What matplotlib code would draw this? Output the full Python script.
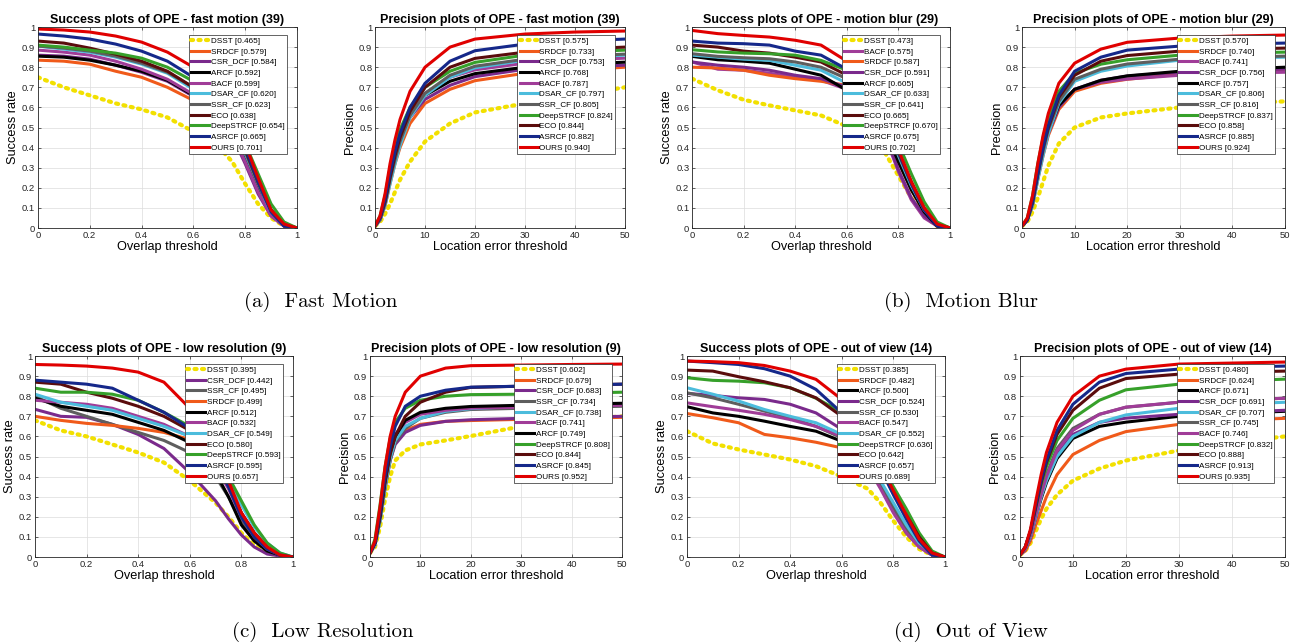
import matplotlib
matplotlib.use("Agg")
import matplotlib.pyplot as plt

# thresholds
succ_x = [0, 0.1, 0.2, 0.3, 0.4, 0.5, 0.6, 0.7, 0.75, 0.8, 0.85, 0.9, 0.95, 1.0]
prec_x = [0, 1, 2, 3, 4, 5, 7, 10, 15, 20, 30, 40, 50]

# ---- (a) fast motion ----
fm_succ_names = ["DSST", "SRDCF", "CSR_DCF", "ARCF", "BACF", "DSAR_CF",
                 "SSR_CF", "ECO", "DeepSTRCF", "ASRCF", "OURS"]
fm_succ_scores = [0.465, 0.579, 0.584, 0.592, 0.599, 0.620, 0.623, 0.638,
                  0.654, 0.665, 0.701]
fm_succ_curves = [
    [0.75, 0.70, 0.66, 0.62, 0.59, 0.55, 0.48, 0.40, 0.33, 0.22, 0.12, 0.05, 0.01, 0.0],
    [0.835, 0.83, 0.815, 0.78, 0.75, 0.70, 0.635, 0.55, 0.48, 0.34, 0.19, 0.07, 0.01, 0.0],
    [0.86, 0.855, 0.84, 0.81, 0.775, 0.73, 0.655, 0.55, 0.46, 0.32, 0.17, 0.06, 0.01, 0.0],
    [0.855, 0.85, 0.835, 0.81, 0.78, 0.735, 0.66, 0.57, 0.49, 0.36, 0.21, 0.08, 0.01, 0.0],
    [0.885, 0.875, 0.86, 0.83, 0.79, 0.74, 0.665, 0.56, 0.47, 0.33, 0.18, 0.06, 0.01, 0.0],
    [0.905, 0.89, 0.875, 0.85, 0.815, 0.77, 0.69, 0.58, 0.50, 0.37, 0.22, 0.08, 0.02, 0.0],
    [0.905, 0.895, 0.88, 0.855, 0.82, 0.775, 0.70, 0.59, 0.51, 0.38, 0.22, 0.09, 0.02, 0.0],
    [0.93, 0.92, 0.895, 0.865, 0.83, 0.78, 0.70, 0.60, 0.52, 0.39, 0.23, 0.09, 0.02, 0.0],
    [0.91, 0.90, 0.885, 0.87, 0.845, 0.80, 0.73, 0.63, 0.55, 0.42, 0.27, 0.12, 0.03, 0.0],
    [0.965, 0.955, 0.94, 0.915, 0.88, 0.83, 0.75, 0.64, 0.55, 0.40, 0.23, 0.08, 0.01, 0.0],
    [0.99, 0.985, 0.975, 0.955, 0.925, 0.875, 0.80, 0.68, 0.58, 0.42, 0.25, 0.09, 0.02, 0.0],
]

fm_prec_names = ["DSST", "SRDCF", "CSR_DCF", "ARCF", "BACF", "DSAR_CF",
                 "SSR_CF", "DeepSTRCF", "ECO", "ASRCF", "OURS"]
fm_prec_scores = [0.575, 0.733, 0.753, 0.768, 0.787, 0.797, 0.805, 0.824,
                  0.844, 0.882, 0.940]
fm_prec_curves = [
    [0.01, 0.03, 0.07, 0.12, 0.18, 0.24, 0.33, 0.43, 0.52, 0.575, 0.62, 0.66, 0.70],
    [0.01, 0.04, 0.11, 0.22, 0.32, 0.40, 0.52, 0.62, 0.69, 0.733, 0.77, 0.785, 0.80],
    [0.01, 0.04, 0.12, 0.24, 0.35, 0.44, 0.55, 0.64, 0.71, 0.753, 0.79, 0.80, 0.81],
    [0.01, 0.05, 0.13, 0.26, 0.37, 0.46, 0.57, 0.66, 0.73, 0.768, 0.80, 0.815, 0.825],
    [0.01, 0.05, 0.14, 0.28, 0.38, 0.47, 0.58, 0.67, 0.75, 0.787, 0.82, 0.835, 0.845],
    [0.01, 0.04, 0.11, 0.22, 0.32, 0.41, 0.55, 0.66, 0.75, 0.797, 0.835, 0.85, 0.86],
    [0.01, 0.04, 0.12, 0.24, 0.34, 0.43, 0.56, 0.67, 0.76, 0.805, 0.84, 0.855, 0.865],
    [0.01, 0.06, 0.16, 0.30, 0.40, 0.49, 0.60, 0.70, 0.78, 0.824, 0.86, 0.875, 0.885],
    [0.01, 0.05, 0.13, 0.25, 0.36, 0.45, 0.58, 0.70, 0.80, 0.844, 0.875, 0.89, 0.90],
    [0.01, 0.05, 0.14, 0.27, 0.38, 0.47, 0.60, 0.72, 0.83, 0.882, 0.915, 0.93, 0.94],
    [0.01, 0.06, 0.17, 0.32, 0.44, 0.54, 0.68, 0.80, 0.90, 0.94, 0.965, 0.975, 0.98],
]

# ---- (b) motion blur ----
mb_succ_names = ["DSST", "BACF", "SRDCF", "CSR_DCF", "ARCF", "DSAR_CF",
                 "SSR_CF", "ECO", "DeepSTRCF", "ASRCF", "OURS"]
mb_succ_scores = [0.473, 0.575, 0.587, 0.591, 0.605, 0.633, 0.641, 0.665,
                  0.670, 0.675, 0.702]
mb_succ_curves = [
    [0.743, 0.685, 0.638, 0.61, 0.585, 0.56, 0.506, 0.44, 0.37, 0.26, 0.15, 0.06, 0.01, 0.0],
    [0.826, 0.79, 0.785, 0.77, 0.75, 0.735, 0.69, 0.56, 0.45, 0.28, 0.14, 0.05, 0.01, 0.0],
    [0.80, 0.796, 0.785, 0.76, 0.743, 0.73, 0.71, 0.60, 0.50, 0.33, 0.19, 0.08, 0.01, 0.0],
    [0.826, 0.81, 0.80, 0.785, 0.76, 0.743, 0.70, 0.57, 0.46, 0.29, 0.15, 0.06, 0.01, 0.0],
    [0.854, 0.837, 0.83, 0.82, 0.79, 0.76, 0.685, 0.58, 0.48, 0.33, 0.19, 0.08, 0.01, 0.0],
    [0.86, 0.85, 0.84, 0.834, 0.81, 0.785, 0.72, 0.61, 0.51, 0.36, 0.21, 0.09, 0.02, 0.0],
    [0.867, 0.854, 0.847, 0.842, 0.826, 0.80, 0.743, 0.63, 0.53, 0.37, 0.22, 0.09, 0.02, 0.0],
    [0.91, 0.90, 0.88, 0.87, 0.85, 0.826, 0.76, 0.64, 0.54, 0.38, 0.23, 0.10, 0.02, 0.0],
    [0.887, 0.876, 0.87, 0.867, 0.86, 0.834, 0.785, 0.67, 0.57, 0.42, 0.27, 0.13, 0.03, 0.0],
    [0.93, 0.92, 0.917, 0.91, 0.88, 0.86, 0.79, 0.66, 0.55, 0.38, 0.22, 0.09, 0.01, 0.0],
    [0.983, 0.967, 0.958, 0.95, 0.934, 0.91, 0.83, 0.68, 0.56, 0.39, 0.23, 0.10, 0.02, 0.0],
]

mb_prec_names = ["DSST", "SRDCF", "BACF", "CSR_DCF", "ARCF", "DSAR_CF",
                 "SSR_CF", "DeepSTRCF", "ECO", "ASRCF", "OURS"]
mb_prec_scores = [0.570, 0.740, 0.741, 0.756, 0.757, 0.806, 0.816, 0.837,
                  0.858, 0.885, 0.924]
mb_prec_curves = [
    [0.01, 0.03, 0.08, 0.15, 0.23, 0.31, 0.42, 0.50, 0.55, 0.570, 0.60, 0.62, 0.63],
    [0.01, 0.04, 0.11, 0.24, 0.36, 0.46, 0.59, 0.68, 0.72, 0.740, 0.765, 0.78, 0.79],
    [0.01, 0.04, 0.13, 0.27, 0.39, 0.49, 0.61, 0.69, 0.725, 0.741, 0.76, 0.77, 0.775],
    [0.01, 0.04, 0.12, 0.25, 0.37, 0.47, 0.60, 0.69, 0.735, 0.756, 0.775, 0.785, 0.79],
    [0.01, 0.04, 0.12, 0.26, 0.38, 0.48, 0.61, 0.69, 0.735, 0.757, 0.78, 0.79, 0.80],
    [0.01, 0.04, 0.11, 0.24, 0.36, 0.47, 0.62, 0.73, 0.78, 0.806, 0.835, 0.845, 0.85],
    [0.01, 0.04, 0.12, 0.26, 0.38, 0.49, 0.63, 0.74, 0.79, 0.816, 0.84, 0.85, 0.855],
    [0.01, 0.05, 0.16, 0.32, 0.45, 0.55, 0.68, 0.77, 0.815, 0.837, 0.86, 0.87, 0.875],
    [0.01, 0.04, 0.13, 0.27, 0.40, 0.50, 0.65, 0.76, 0.83, 0.858, 0.88, 0.89, 0.895],
    [0.01, 0.04, 0.13, 0.27, 0.40, 0.51, 0.66, 0.78, 0.85, 0.885, 0.905, 0.915, 0.92],
    [0.01, 0.05, 0.16, 0.32, 0.46, 0.57, 0.72, 0.82, 0.89, 0.924, 0.945, 0.955, 0.96],
]

# ---- (c) low resolution ----
lr_succ_names = ["DSST", "CSR_DCF", "SSR_CF", "SRDCF", "ARCF", "BACF",
                 "DSAR_CF", "ECO", "DeepSTRCF", "ASRCF", "OURS"]
lr_succ_scores = [0.395, 0.442, 0.495, 0.499, 0.512, 0.532, 0.549, 0.580,
                  0.593, 0.595, 0.657]
lr_succ_curves = [
    [0.68, 0.63, 0.60, 0.56, 0.52, 0.47, 0.38, 0.27, 0.20, 0.12, 0.06, 0.02, 0.005, 0.0],
    [0.735, 0.70, 0.695, 0.66, 0.61, 0.54, 0.42, 0.28, 0.19, 0.11, 0.05, 0.015, 0.005, 0.0],
    [0.80, 0.74, 0.70, 0.66, 0.62, 0.58, 0.52, 0.40, 0.30, 0.18, 0.09, 0.03, 0.01, 0.0],
    [0.70, 0.68, 0.665, 0.655, 0.64, 0.62, 0.585, 0.45, 0.35, 0.22, 0.12, 0.05, 0.01, 0.0],
    [0.79, 0.75, 0.73, 0.71, 0.67, 0.63, 0.57, 0.42, 0.30, 0.16, 0.08, 0.03, 0.01, 0.0],
    [0.78, 0.77, 0.76, 0.74, 0.70, 0.66, 0.60, 0.45, 0.34, 0.20, 0.10, 0.04, 0.01, 0.0],
    [0.81, 0.77, 0.75, 0.73, 0.69, 0.65, 0.60, 0.47, 0.38, 0.26, 0.15, 0.07, 0.02, 0.0],
    [0.87, 0.86, 0.82, 0.79, 0.75, 0.70, 0.63, 0.47, 0.36, 0.22, 0.12, 0.05, 0.01, 0.0],
    [0.84, 0.82, 0.82, 0.81, 0.78, 0.72, 0.65, 0.50, 0.40, 0.28, 0.16, 0.07, 0.02, 0.0],
    [0.88, 0.87, 0.86, 0.84, 0.78, 0.72, 0.64, 0.47, 0.35, 0.20, 0.10, 0.04, 0.01, 0.0],
    [0.958, 0.955, 0.95, 0.94, 0.92, 0.87, 0.74, 0.52, 0.38, 0.22, 0.12, 0.05, 0.01, 0.0],
]

lr_prec_names = ["DSST", "SRDCF", "CSR_DCF", "SSR_CF", "DSAR_CF", "BACF",
                 "ARCF", "DeepSTRCF", "ECO", "ASRCF", "OURS"]
lr_prec_scores = [0.602, 0.679, 0.683, 0.734, 0.738, 0.741, 0.749, 0.808,
                  0.844, 0.845, 0.952]
lr_prec_curves = [
    [0.02, 0.05, 0.15, 0.29, 0.40, 0.48, 0.53, 0.56, 0.58, 0.602, 0.65, 0.68, 0.70],
    [0.02, 0.06, 0.19, 0.36, 0.50, 0.58, 0.63, 0.66, 0.675, 0.679, 0.685, 0.69, 0.695],
    [0.02, 0.06, 0.19, 0.35, 0.48, 0.56, 0.62, 0.655, 0.675, 0.683, 0.69, 0.695, 0.70],
    [0.02, 0.06, 0.18, 0.34, 0.48, 0.57, 0.64, 0.69, 0.72, 0.734, 0.74, 0.745, 0.75],
    [0.02, 0.06, 0.18, 0.35, 0.49, 0.58, 0.65, 0.69, 0.725, 0.738, 0.75, 0.755, 0.76],
    [0.02, 0.07, 0.22, 0.40, 0.53, 0.61, 0.67, 0.71, 0.73, 0.741, 0.745, 0.75, 0.755],
    [0.02, 0.07, 0.20, 0.38, 0.52, 0.60, 0.68, 0.72, 0.74, 0.749, 0.755, 0.76, 0.765],
    [0.02, 0.09, 0.26, 0.45, 0.59, 0.67, 0.74, 0.78, 0.80, 0.808, 0.81, 0.815, 0.82],
    [0.02, 0.07, 0.20, 0.37, 0.51, 0.60, 0.70, 0.77, 0.82, 0.844, 0.85, 0.855, 0.86],
    [0.02, 0.07, 0.22, 0.40, 0.55, 0.65, 0.75, 0.80, 0.83, 0.845, 0.85, 0.855, 0.86],
    [0.02, 0.08, 0.25, 0.45, 0.60, 0.70, 0.82, 0.90, 0.94, 0.952, 0.955, 0.958, 0.96],
]

# ---- (d) out of view ----
ov_succ_names = ["DSST", "SRDCF", "ARCF", "CSR_DCF", "SSR_CF", "BACF",
                 "DSAR_CF", "DeepSTRCF", "ECO", "ASRCF", "OURS"]
ov_succ_scores = [0.385, 0.482, 0.500, 0.524, 0.530, 0.547, 0.552, 0.636,
                  0.642, 0.657, 0.689]
ov_succ_curves = [
    [0.626, 0.565, 0.535, 0.51, 0.485, 0.452, 0.40, 0.34, 0.27, 0.18, 0.10, 0.04, 0.01, 0.0],
    [0.714, 0.693, 0.668, 0.61, 0.593, 0.571, 0.543, 0.45, 0.36, 0.25, 0.14, 0.06, 0.01, 0.0],
    [0.748, 0.717, 0.70, 0.676, 0.65, 0.626, 0.576, 0.45, 0.36, 0.25, 0.14, 0.06, 0.01, 0.0],
    [0.814, 0.804, 0.792, 0.784, 0.76, 0.717, 0.635, 0.46, 0.35, 0.23, 0.12, 0.05, 0.01, 0.0],
    [0.817, 0.792, 0.76, 0.726, 0.693, 0.65, 0.593, 0.46, 0.36, 0.25, 0.14, 0.06, 0.01, 0.0],
    [0.767, 0.748, 0.73, 0.71, 0.684, 0.65, 0.60, 0.45, 0.34, 0.22, 0.12, 0.05, 0.01, 0.0],
    [0.842, 0.81, 0.776, 0.734, 0.70, 0.668, 0.61, 0.48, 0.38, 0.27, 0.16, 0.07, 0.02, 0.0],
    [0.892, 0.879, 0.875, 0.867, 0.842, 0.79, 0.72, 0.57, 0.46, 0.35, 0.24, 0.12, 0.03, 0.0],
    [0.93, 0.925, 0.897, 0.872, 0.842, 0.792, 0.70, 0.55, 0.44, 0.32, 0.21, 0.10, 0.02, 0.0],
    [0.975, 0.967, 0.958, 0.937, 0.90, 0.834, 0.717, 0.55, 0.44, 0.31, 0.19, 0.08, 0.01, 0.0],
    [0.975, 0.972, 0.967, 0.953, 0.925, 0.884, 0.784, 0.58, 0.46, 0.33, 0.21, 0.09, 0.02, 0.0],
]

ov_prec_names = ["DSST", "SRDCF", "ARCF", "CSR_DCF", "DSAR_CF", "SSR_CF",
                 "BACF", "DeepSTRCF", "ECO", "ASRCF", "OURS"]
ov_prec_scores = [0.480, 0.624, 0.671, 0.691, 0.707, 0.745, 0.746, 0.832,
                  0.888, 0.913, 0.935]
ov_prec_curves = [
    [0.01, 0.03, 0.07, 0.13, 0.19, 0.24, 0.31, 0.38, 0.44, 0.480, 0.53, 0.57, 0.60],
    [0.01, 0.03, 0.08, 0.16, 0.23, 0.30, 0.41, 0.51, 0.58, 0.624, 0.66, 0.68, 0.69],
    [0.01, 0.04, 0.10, 0.20, 0.29, 0.37, 0.49, 0.59, 0.65, 0.671, 0.70, 0.715, 0.725],
    [0.01, 0.04, 0.10, 0.20, 0.30, 0.39, 0.51, 0.61, 0.67, 0.691, 0.71, 0.72, 0.73],
    [0.01, 0.04, 0.10, 0.20, 0.30, 0.38, 0.50, 0.60, 0.67, 0.707, 0.74, 0.76, 0.77],
    [0.01, 0.04, 0.11, 0.22, 0.32, 0.41, 0.54, 0.64, 0.71, 0.745, 0.77, 0.78, 0.79],
    [0.01, 0.04, 0.11, 0.21, 0.31, 0.40, 0.53, 0.63, 0.71, 0.746, 0.77, 0.78, 0.79],
    [0.01, 0.05, 0.13, 0.25, 0.36, 0.45, 0.58, 0.69, 0.78, 0.832, 0.86, 0.875, 0.885],
    [0.01, 0.05, 0.13, 0.25, 0.37, 0.47, 0.61, 0.73, 0.84, 0.888, 0.91, 0.92, 0.925],
    [0.01, 0.05, 0.13, 0.26, 0.38, 0.48, 0.63, 0.76, 0.87, 0.913, 0.935, 0.945, 0.95],
    [0.01, 0.05, 0.14, 0.28, 0.41, 0.52, 0.67, 0.80, 0.90, 0.935, 0.96, 0.965, 0.97],
]

tracker_colors = {
    "DSST": "#f2e000",
    "SRDCF": "#f05a1a",
    "CSR_DCF": "#7a2a8c",
    "ARCF": "#000000",
    "BACF": "#a03c98",
    "DSAR_CF": "#4cbcdc",
    "SSR_CF": "#5e5e5e",
    "ECO": "#5a0c0c",
    "DeepSTRCF": "#36a02a",
    "ASRCF": "#15288a",
    "OURS": "#e00000",
}

panels = [
    # rect (figure fraction), kind, subject, names, scores, curves
    ([0.0293, 0.6454, 0.2000, 0.3126], "succ", "fast motion (39)",
     fm_succ_names, fm_succ_scores, fm_succ_curves),
    ([0.2896, 0.6454, 0.1930, 0.3126], "prec", "fast motion (39)",
     fm_prec_names, fm_prec_scores, fm_prec_curves),
    ([0.5344, 0.6454, 0.1992, 0.3126], "succ", "motion blur (29)",
     mb_succ_names, mb_succ_scores, mb_succ_curves),
    ([0.7892, 0.6454, 0.2031, 0.3126], "prec", "motion blur (29)",
     mb_prec_names, mb_prec_scores, mb_prec_curves),
    ([0.0270, 0.1337, 0.1992, 0.3126], "succ", "low resolution (9)",
     lr_succ_names, lr_succ_scores, lr_succ_curves),
    ([0.2857, 0.1337, 0.1946, 0.3126], "prec", "low resolution (9)",
     lr_prec_names, lr_prec_scores, lr_prec_curves),
    ([0.5305, 0.1337, 0.1992, 0.3126], "succ", "out of view (14)",
     ov_succ_names, ov_succ_scores, ov_succ_curves),
    ([0.7876, 0.1337, 0.2046, 0.3126], "prec", "out of view (14)",
     ov_prec_names, ov_prec_scores, ov_prec_curves),
]

captions = [("(a)  Fast Motion", 0.248, 0.523),
            ("(b)  Motion Blur", 0.742, 0.523),
            ("(c)  Low Resolution", 0.249, 0.010),
            ("(d)  Out of View", 0.750, 0.010)]

fig = plt.figure(figsize=(12.95, 6.43), dpi=100)
plt.rcParams["font.family"] = ["Liberation Sans", "DejaVu Sans"]

for rect, kind, subject, names, scores, curves in panels:
    ax = fig.add_axes(rect)
    xs = succ_x if kind == "succ" else prec_x
    for name, score, ys in zip(names, scores, curves):
        label = "{0} [{1:.3f}]".format(name, score)
        if name == "DSST":
            ax.plot(xs, ys, color=tracker_colors[name], linestyle=(0, (0.5, 1.3)),
                    linewidth=3.0, label=label, dash_capstyle="round")
        else:
            ax.plot(xs, ys, color=tracker_colors[name], linewidth=2.2, label=label)

    if kind == "succ":
        ax.set_xlim(0, 1)
        ax.set_xticks([0, 0.2, 0.4, 0.6, 0.8, 1])
        ax.set_xticklabels(["0", "0.2", "0.4", "0.6", "0.8", "1"])
        ax.set_xlabel("Overlap threshold", fontsize=9.2, labelpad=1)
        ax.set_ylabel("Success rate", fontsize=9.2, labelpad=2)
        ax.set_title("Success plots of OPE - " + subject, fontsize=9,
                     fontweight="bold", pad=3)
    else:
        ax.set_xlim(0, 50)
        ax.set_xticks([0, 10, 20, 30, 40, 50])
        ax.set_xlabel("Location error threshold", fontsize=9.2, labelpad=1)
        ax.set_ylabel("Precision", fontsize=9.2, labelpad=2)
        ax.set_title("Precision plots of OPE - " + subject, fontsize=9,
                     fontweight="bold", pad=3)
    ax.set_ylim(0, 1)
    ax.set_yticks([i / 10 for i in range(11)])
    ax.set_yticklabels(["0"] + ["0.%d" % i for i in range(1, 10)] + ["1"])
    ax.tick_params(direction="in", top=True, right=True, labelsize=6.8,
                   length=2.5, width=0.5, pad=2, colors="#262626")
    ax.grid(True, color="#dcdcdc", linewidth=0.5)
    ax.set_axisbelow(True)
    for spine in ax.spines.values():
        spine.set_color("#262626")
        spine.set_linewidth(0.6)

    leg = ax.legend(loc="upper right", bbox_to_anchor=(0.96, 0.96),
                    borderaxespad=0, fontsize=5.9, frameon=True, fancybox=False,
                    framealpha=1, edgecolor="#262626", handlelength=2.2,
                    handletextpad=0.2, labelspacing=0.36, borderpad=0.25)
    leg.get_frame().set_linewidth(0.5)

for text, x, y in captions:
    fig.text(x, y, text, ha="center", va="baseline", fontsize=15,
             family="cmr10")

fig.savefig("out.png", dpi=100)
